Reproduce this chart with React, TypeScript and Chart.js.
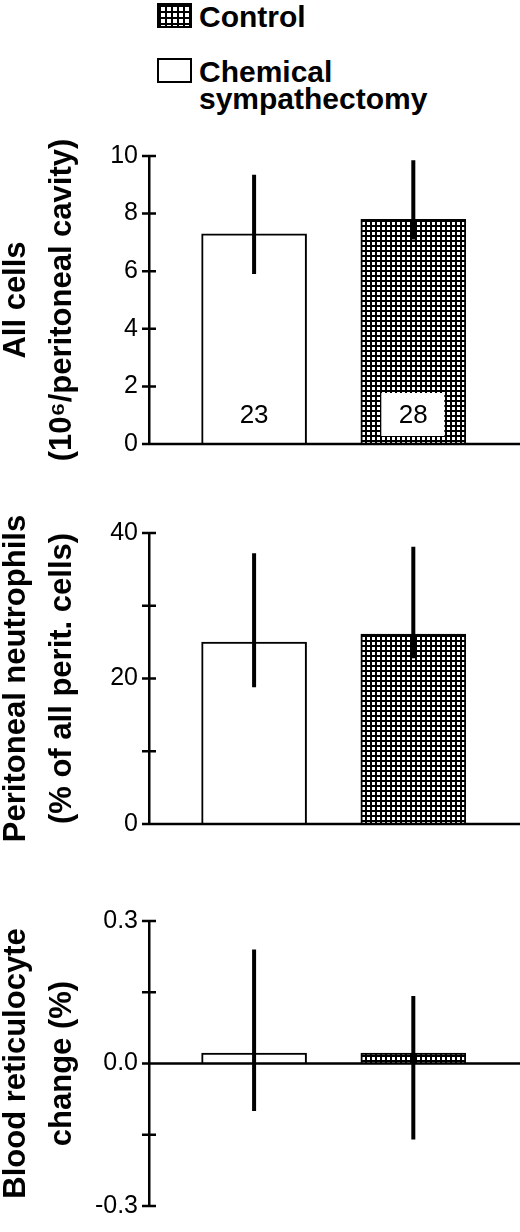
import { useEffect, useRef } from 'react';
import { Chart, registerables } from 'chart.js';

Chart.register(...registerables);

const FONT = '"Liberation Sans", Arial, Helvetica, sans-serif';

// groups, in bar order (left to right)
const groups = ['Chemical sympathectomy', 'Control'];
const groupX = [1, 2];
const patterned = [false, true];
const sampleSizes = ['23', '28'];

// all cells (10^6 / peritoneal cavity)
const cellsMean = [7.3, 7.8];
const cellsLow = [5.9, 7.1];
const cellsHigh = [9.35, 9.85];
const cellsTickValues = [0, 2, 4, 6, 8, 10];
const cellsTickLabels = ['0', '2', '4', '6', '8', '10'];

// peritoneal neutrophils (% of all perit. cells)
const neutroMean = [25.0, 26.1];
const neutroLow = [18.8, 22.8];
const neutroHigh = [37.2, 38.1];
const neutroTickValues = [0, 10, 20, 30, 40];
const neutroTickLabels = ['0', '', '20', '', '40'];

// blood reticulocyte change (%)
const reticMean = [0.022, 0.022];
const reticLow = [-0.1, -0.16];
const reticHigh = [0.24, 0.142];
const reticTickValues = [-0.3, -0.15, 0, 0.15, 0.3];
const reticTickLabels = ['-0.3', '', '0.0', '', '0.3'];

const GRID_CSS =
  'linear-gradient(to right, #000 2px, transparent 2px), linear-gradient(to bottom, #000 2px, transparent 2px)';

function makePattern() {
  const c = document.createElement('canvas');
  c.width = 5;
  c.height = 5;
  const g = c.getContext('2d');
  g.fillStyle = '#fff';
  g.fillRect(0, 0, 5, 5);
  g.fillStyle = '#000';
  g.fillRect(0, 0, 5, 2);
  g.fillRect(0, 0, 2, 5);
  return g.createPattern(c, 'repeat');
}

const marks = (low, high, showN) => ({
  id: 'marks',
  afterDatasetsDraw(chart) {
    const ctx = chart.ctx;
    const y = chart.scales.y;
    const left = chart.chartArea.left;
    const y0 = y.getPixelForValue(0);
    ctx.save();
    ctx.strokeStyle = '#000';
    ctx.lineWidth = 2.5;
    ctx.beginPath();
    ctx.moveTo(left - 7, y0);
    ctx.lineTo(chart.width, y0);
    y.ticks.forEach((t) => {
      const py = y.getPixelForValue(t.value);
      ctx.moveTo(left - 7, py);
      ctx.lineTo(left + 7, py);
    });
    ctx.stroke();

    const meta = chart.getDatasetMeta(0);
    ctx.lineWidth = 4;
    ctx.beginPath();
    meta.data.forEach((bar, i) => {
      ctx.moveTo(bar.x, y.getPixelForValue(low[i]));
      ctx.lineTo(bar.x, y.getPixelForValue(high[i]));
    });
    ctx.stroke();

    if (showN) {
      ctx.font = `26px ${FONT}`;
      ctx.textAlign = 'center';
      ctx.textBaseline = 'middle';
      meta.data.forEach((bar, i) => {
        if (patterned[i]) {
          ctx.fillStyle = '#fff';
          ctx.fillRect(bar.x - 32, y0 - 51, 63, 43);
        }
        ctx.fillStyle = '#000';
        ctx.fillText(sampleSizes[i], bar.x, y0 - 28);
      });
    }
    ctx.restore();
  },
});

function Panel(props) {
  const ref = useRef(null);

  useEffect(() => {
    const grid = makePattern();
    const chart = new Chart(ref.current, {
      type: 'bar',
      data: {
        datasets: [
          {
            label: props.title.join(' '),
            data: groupX.map((x, i) => ({ x, y: props.mean[i] })),
            backgroundColor: patterned.map((p) => (p ? grid : '#fff')),
            borderColor: '#000',
            borderWidth: 2,
            barThickness: 105,
            grouped: false,
          },
        ],
      },
      options: {
        responsive: false,
        animation: false,
        events: [],
        layout: { padding: { top: props.padTop, bottom: props.padBottom, left: 0, right: 0 } },
        plugins: { legend: { display: false }, tooltip: { enabled: false } },
        scales: {
          x: { type: 'linear', min: 0.34, max: 2.67, offset: false, display: false },
          y: {
            min: props.min,
            max: props.max,
            afterFit: (s) => {
              s.width = 149;
            },
            afterBuildTicks: (s) => {
              s.ticks = props.tickValues.map((v) => ({ value: v }));
            },
            grid: { display: false, drawTicks: false },
            border: { display: true, color: '#000', width: 2.5 },
            ticks: {
              padding: 11,
              color: '#000',
              font: { family: FONT, size: 25 },
              callback: (v, i) => props.tickLabels[i],
            },
            title: {
              display: true,
              text: props.title,
              color: '#000',
              font: { family: FONT, size: 31, weight: 'bold', lineHeight: 1.48 },
              padding: { top: -6.5, bottom: 0 },
            },
          },
        },
      },
      plugins: [marks(props.low, props.high, props.showN)],
    });
    return () => chart.destroy();
  }, []);

  return (
    <canvas
      ref={ref}
      width={520}
      height={props.height}
      style={{ position: 'absolute', left: 0, top: props.top, width: 520, height: props.height }}
    />
  );
}

export default function App() {
  const label = { position: 'absolute', left: 199, font: `bold 30px/27px ${FONT}`, width: 250, color: '#000' };
  const swatch = { position: 'absolute', left: 157, width: 35, height: 25, boxSizing: 'border-box', border: '2px solid #000' };
  return (
    <div style={{ position: 'absolute', left: 0, top: 0, width: 520, height: 1232, background: '#fff' }}>
      <div style={{ ...swatch, top: 3, backgroundColor: '#fff', backgroundImage: GRID_CSS, backgroundSize: '6px 6px' }} />
      <div style={{ ...label, top: 3 }}>{groups[1]}</div>
      <div style={{ ...swatch, top: 58, background: '#fff' }} />
      <div style={{ ...label, top: 58 }}>{groups[0]}</div>

      <Panel
        top={130}
        height={340}
        padTop={24}
        padBottom={19}
        min={0}
        max={10}
        mean={cellsMean}
        low={cellsLow}
        high={cellsHigh}
        tickValues={cellsTickValues}
        tickLabels={cellsTickLabels}
        title={['All cells', '(10\u2076/peritoneal cavity)']}
        showN
      />
      <Panel
        top={505}
        height={345}
        padTop={28}
        padBottom={21}
        min={0}
        max={40}
        mean={neutroMean}
        low={neutroLow}
        high={neutroHigh}
        tickValues={neutroTickValues}
        tickLabels={neutroTickLabels}
        title={['Peritoneal neutrophils', '(% of all perit. cells)']}
      />
      <Panel
        top={895}
        height={337}
        padTop={23}
        padBottom={15}
        min={-0.3}
        max={0.3}
        mean={reticMean}
        low={reticLow}
        high={reticHigh}
        tickValues={reticTickValues}
        tickLabels={reticTickLabels}
        title={['Blood reticulocyte', 'change (%)']}
      />
    </div>
  );
}
